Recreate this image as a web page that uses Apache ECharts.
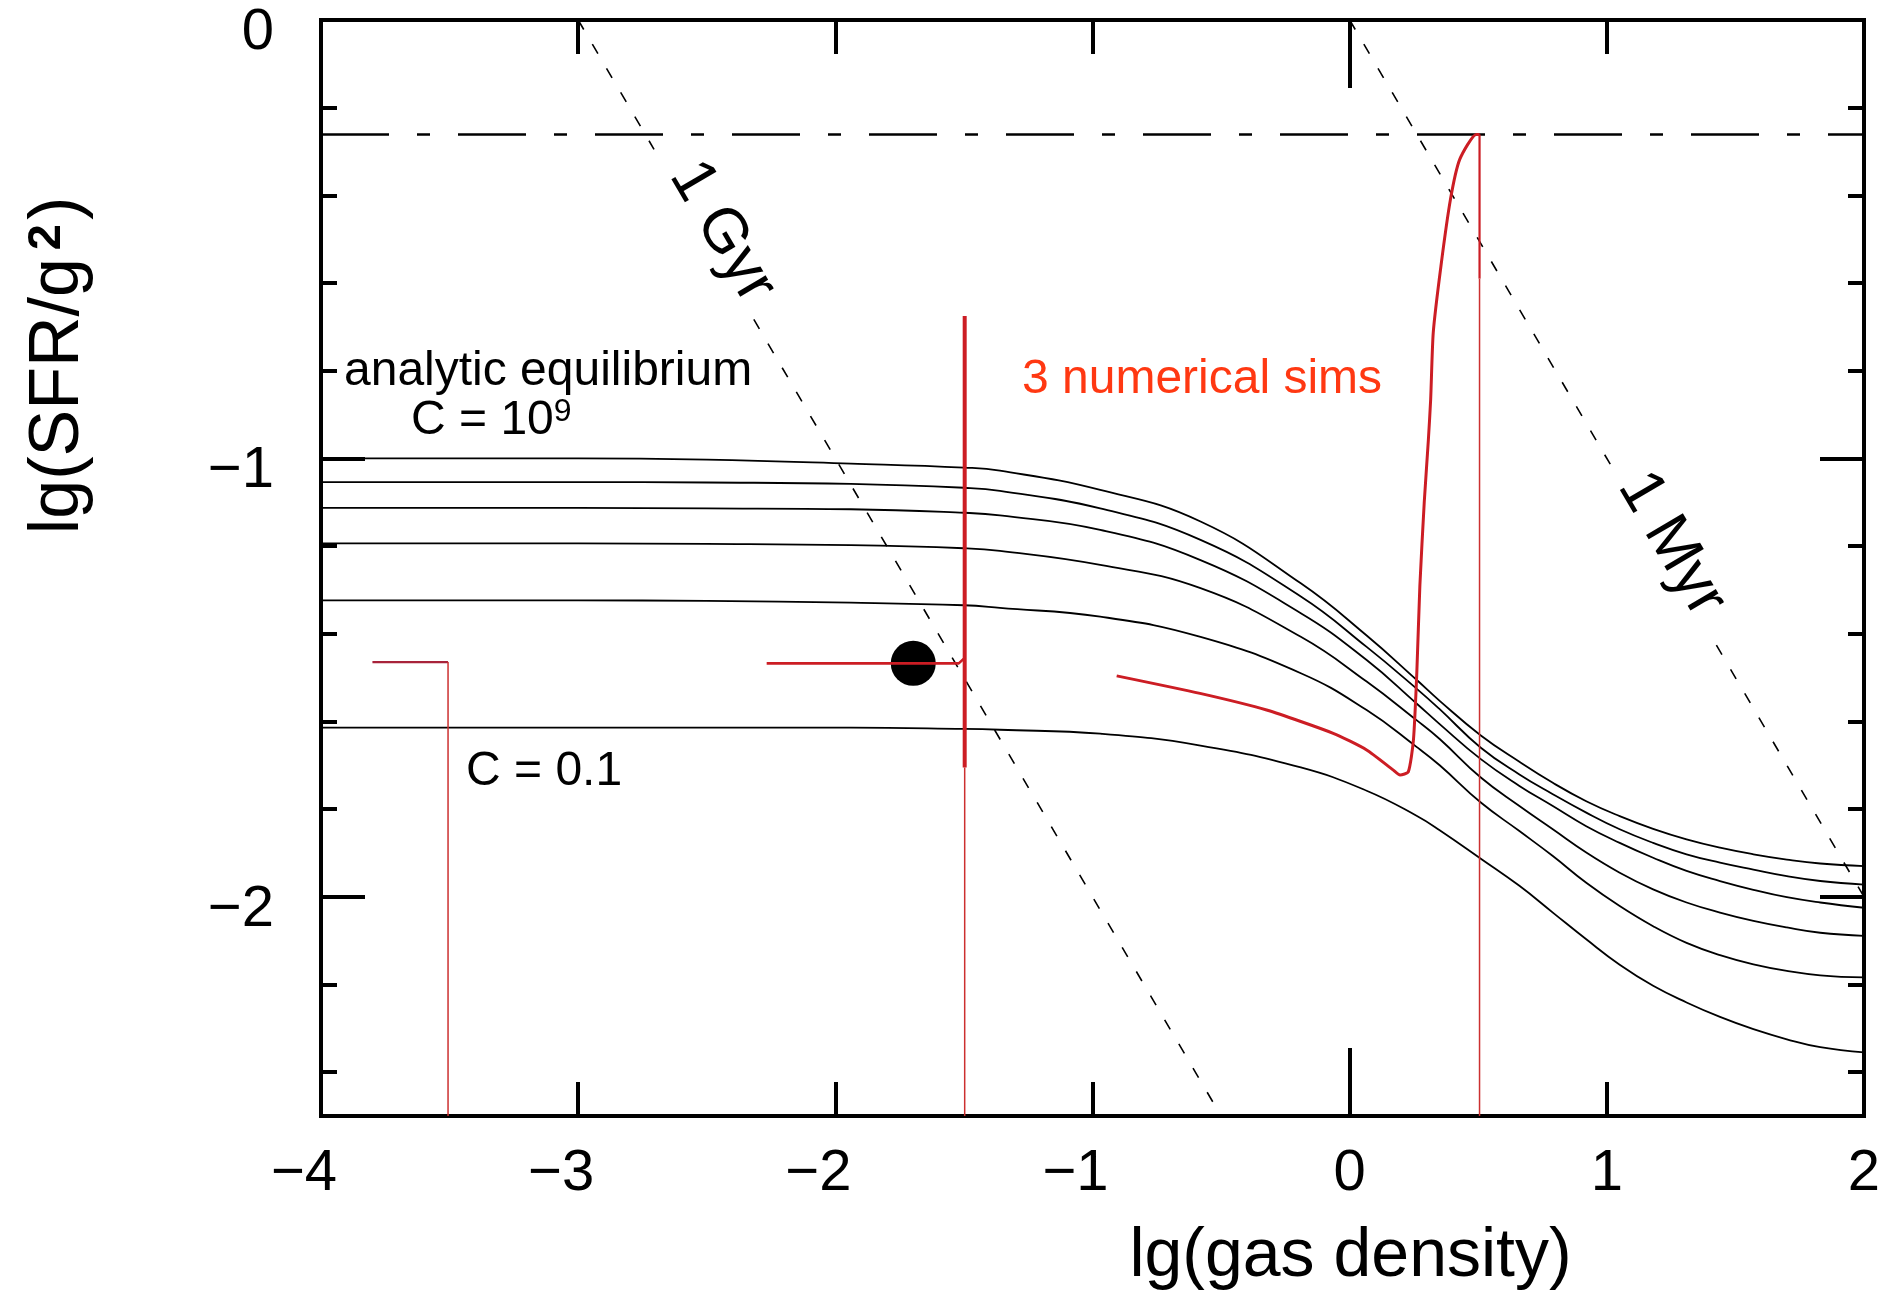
<!DOCTYPE html>
<html>
<head>
<meta charset="utf-8">
<script src="https://cdn.jsdelivr.net/npm/echarts@6/dist/echarts.min.js"></script>
<style>
html,body{margin:0;padding:0;background:#ffffff;}
#chart{width:1886px;height:1293px;}
</style>
</head>
<body>
<div id="chart"></div>
<script>
// ---------------- data ----------------
// lg(gas density) sample positions of the analytic equilibrium curves
const eqX = [-4, -3, -2.5, -1.94, -1.5, -1.36, -0.97, -0.58, -0.19, 0.066, 0.26, 0.35, 0.51, 0.66, 0.79, 0.92, 1.05, 1.18, 1.31, 1.44, 1.57, 1.70, 1.83, 2.0];
// analytic equilibrium curves, top (C = 1e9) to bottom (C = 0.1)
const eqCurve1 = [-1.000, -1.000, -1.003, -1.012, -1.021, -1.028, -1.072, -1.144, -1.285, -1.404, -1.505, -1.553, -1.632, -1.692, -1.740, -1.782, -1.816, -1.845, -1.869, -1.888, -1.903, -1.915, -1.924, -1.930];
const eqCurve2 = [-1.054, -1.054, -1.055, -1.058, -1.067, -1.074, -1.114, -1.186, -1.315, -1.430, -1.525, -1.572, -1.660, -1.721, -1.766, -1.808, -1.846, -1.877, -1.903, -1.922, -1.938, -1.953, -1.964, -1.972];
const eqCurve3 = [-1.113, -1.113, -1.114, -1.116, -1.124, -1.130, -1.163, -1.232, -1.353, -1.460, -1.559, -1.606, -1.686, -1.747, -1.793, -1.839, -1.877, -1.911, -1.941, -1.964, -1.984, -2.001, -2.013, -2.025];
const eqCurve4 = [-1.194, -1.194, -1.195, -1.198, -1.205, -1.211, -1.243, -1.296, -1.407, -1.509, -1.597, -1.640, -1.728, -1.793, -1.846, -1.899, -1.945, -1.983, -2.013, -2.036, -2.055, -2.070, -2.082, -2.089];
const eqCurve5 = [-1.324, -1.324, -1.325, -1.329, -1.335, -1.341, -1.361, -1.407, -1.490, -1.574, -1.658, -1.700, -1.785, -1.850, -1.907, -1.968, -2.021, -2.067, -2.105, -2.133, -2.154, -2.169, -2.179, -2.184];
const eqCurve6 = [-1.614, -1.614, -1.614, -1.614, -1.617, -1.619, -1.628, -1.655, -1.705, -1.758, -1.815, -1.848, -1.913, -1.975, -2.036, -2.097, -2.155, -2.203, -2.241, -2.274, -2.302, -2.325, -2.343, -2.355];

// numerical simulation A (leftmost)
const simAFlat = [[-3.80, -1.4645], [-3.506, -1.4645]];
const simADrop = [[-3.506, -1.4645], [-3.506, -2.5]];
// numerical simulation B (middle)
const simBFlat = [[-2.267, -1.4675], [-1.52, -1.4675], [-1.497, -1.455]];
const simBJump = [[-1.497, -0.675], [-1.497, -1.705]];
const simBDrop = [[-1.497, -1.705], [-1.497, -2.5]];
// numerical simulation C (right)
const simCTrack = [[-0.906, -1.496], [-0.582, -1.536], [-0.323, -1.574], [-0.064, -1.627], [0.066, -1.665], [0.170, -1.711], [0.196, -1.722], [0.228, -1.715], [0.248, -1.642], [0.261, -1.490], [0.273, -1.290], [0.290, -1.100], [0.306, -0.958], [0.315, -0.865], [0.325, -0.713], [0.355, -0.561], [0.392, -0.409], [0.428, -0.318], [0.492, -0.261], [0.505, -0.261]];
const simCJump = [[0.505, -0.261], [0.505, -0.59]];
const simCDrop = [[0.505, -0.59], [0.505, -2.5]];
// initial state marker
const startPoint = [[-1.697, -1.4675]];

// reference lines
const ceilingLine = [[-4, -0.261], [2, -0.261]];
const gyrLineA = [[-3, 0], [-2.705, -0.295]];
const gyrLineB = [[-2.317, -0.683], [-0.5, -2.5]];
const myrLineA = [[0, 0], [1.022, -1.022]];
const myrLineB = [[1.426, -1.426], [2, -2]];

// ticks and labels
const xLabelVals = [-4, -3, -2, -1, 0, 1, 2];
const xTickVals = [-3, -2, -1, 0, 1];
const xLongTickVals = [0];
const yLabelVals = [0, -1, -2];
const yMajorTickVals = [-1, -2];
const yMinorTickVals = [-0.2, -0.4, -0.6, -0.8, -1.2, -1.4, -1.6, -1.8, -2.2, -2.4];

// ---------------- chart ----------------
const FONT = '"Liberation Sans", Arial, Helvetica, sans-serif';
const BLACK = '#000000';
const SIM_RED = '#cc1d24';
const THIN_RED = '#cc3030';
const MINUS = '\u2212';
const chart = echarts.init(document.getElementById('chart'), null, {renderer: 'canvas'});

function baseX(extra) {
  return Object.assign({
    type: 'value', min: -4, max: 2, gridIndex: 0,
    axisLine: {show: false, onZero: false},
    axisTick: {show: false}, axisLabel: {show: false},
    splitLine: {show: false}, minorTick: {show: false}
  }, extra);
}
function baseY(extra) {
  return Object.assign({
    type: 'value', min: -2.5, max: 0, gridIndex: 0,
    axisLine: {show: false, onZero: false},
    axisTick: {show: false}, axisLabel: {show: false},
    splitLine: {show: false}, minorTick: {show: false}
  }, extra);
}
const frameLine = {show: true, onZero: false, lineStyle: {color: BLACK, width: 4, cap: 'square'}};
function ticks(vals, len) {
  return {show: true, inside: true, length: len, customValues: vals, lineStyle: {color: BLACK, width: 4}};
}
const fmtNum = v => (v < 0 ? MINUS + Math.abs(v) : String(v));

function eqSeries(vals) {
  return {
    type: 'line', xAxisIndex: 0, yAxisIndex: 0, symbol: 'none', smooth: 0.45,
    data: eqX.map((x, i) => [x, vals[i]]),
    lineStyle: {color: BLACK, width: 1.8}, z: 3, silent: true
  };
}
function seg(data, color, width, type, z, smooth) {
  return {
    type: 'line', xAxisIndex: 0, yAxisIndex: 0, symbol: 'none', data: data,
    smooth: smooth || false,
    lineStyle: {color: color, width: width, type: type || 'solid'}, z: z || 4, silent: true
  };
}

const option = {
  animation: false,
  backgroundColor: '#ffffff',
  grid: {left: 321, right: 22, top: 20, bottom: 177, containLabel: false, outerBoundsMode: 'none'},
  xAxis: [
    baseX({
      position: 'bottom', axisLine: frameLine, axisTick: ticks(xTickVals, 34),
      axisLabel: {
        show: true, customValues: xLabelVals, margin: 29, color: BLACK, fontSize: 58, fontFamily: FONT,
        formatter: v => v < 0 ? '{n|' + fmtNum(v) + '}{p| }' : '{n|' + v + '}',
        rich: {
          n: {fontSize: 58, fontFamily: FONT, color: BLACK},
          p: {fontSize: 58, fontFamily: FONT, width: 34}
        }
      },
      name: 'lg(gas density)', nameLocation: 'middle', nameGap: 141,
      nameTextStyle: {fontSize: 68, fontFamily: FONT, color: BLACK, align: 'center', verticalAlign: 'middle', padding: [0, 0, 0, 516]}
    }),
    baseX({position: 'bottom', axisTick: ticks(xLongTickVals, 68)}),
    baseX({position: 'top', axisLine: frameLine, axisTick: ticks(xTickVals, 34)}),
    baseX({position: 'top', axisTick: ticks(xLongTickVals, 68)})
  ],
  yAxis: [
    baseY({
      position: 'left', axisLine: frameLine, axisTick: ticks(yMajorTickVals, 44),
      axisLabel: {
        show: true, customValues: yLabelVals, margin: 47, color: BLACK, fontSize: 58, fontFamily: FONT,
        formatter: v => '{v|' + fmtNum(v) + '}',
        rich: {v: {fontSize: 58, fontFamily: FONT, color: BLACK, padding: [26, 0, 0, 0]}}
      },
      name: '{a|lg(SFR/g}{s|2}{a|)}', nameLocation: 'middle', nameRotate: 90, nameGap: 262,
      nameTextStyle: {
        fontSize: 70, fontFamily: FONT, color: BLACK, align: 'center', verticalAlign: 'middle', padding: [0, 0, 0, 405],
        rich: {
          a: {fontSize: 70, fontFamily: FONT, color: BLACK},
          s: {fontSize: 47, fontFamily: FONT, fontWeight: 'bold', color: BLACK, verticalAlign: 'top', padding: [0, 4, 0, 8]}
        }
      }
    }),
    baseY({position: 'left', axisTick: ticks(yMinorTickVals, 16)}),
    baseY({position: 'right', axisLine: frameLine, axisTick: ticks(yMajorTickVals, 44)}),
    baseY({position: 'right', axisTick: ticks(yMinorTickVals, 16)})
  ],
  series: [
    {
      type: 'scatter', xAxisIndex: 0, yAxisIndex: 0, data: startPoint, symbol: 'circle', symbolSize: 45,
      itemStyle: {color: BLACK, opacity: 1}, z: 2, silent: true
    },
    eqSeries(eqCurve1), eqSeries(eqCurve2), eqSeries(eqCurve3),
    eqSeries(eqCurve4), eqSeries(eqCurve5), eqSeries(eqCurve6),
    seg(ceilingLine, BLACK, 2.5, [68, 28, 13, 28], 3),
    seg(gyrLineA, BLACK, 1.6, [11, 17], 3),
    seg(gyrLineB, BLACK, 1.6, [11, 17], 3),
    seg(myrLineA, BLACK, 1.6, [11, 17], 3),
    seg(myrLineB, BLACK, 1.6, [11, 17], 3),
    seg(simAFlat, '#a8233a', 2.2, 'solid', 5),
    seg(simADrop, THIN_RED, 1.5, 'solid', 5),
    seg(simBFlat, SIM_RED, 2.6, 'solid', 5),
    seg(simBJump, SIM_RED, 4, 'solid', 5),
    seg(simBDrop, THIN_RED, 1.5, 'solid', 5),
    seg(simCTrack, SIM_RED, 3, 'solid', 6, 0.2),
    seg(simCJump, SIM_RED, 2.2, 'solid', 5),
    seg(simCDrop, THIN_RED, 1.5, 'solid', 5)
  ]
};
chart.setOption(option);

// ---------------- annotations (anchored in data space) ----------------
const annot = {
  analytic: [-3.117, -0.8015],
  c1e9: [-3.650, -0.9133],
  c01: [-3.436, -1.714],
  sims: [-0.574, -0.821],
  gyr: [-2.4407, -0.4836],
  myr: [1.2511, -1.1957]
};
const toPx = p => chart.convertToPixel({xAxisIndex: 0, yAxisIndex: 0}, p);
function lineAngle(a, b) {
  const p = toPx(a), q = toPx(b);
  return Math.atan2(q[1] - p[1], q[0] - p[0]);
}
const gyrAngle = lineAngle(gyrLineA[0], gyrLineB[gyrLineB.length - 1]);
const myrAngle = lineAngle(myrLineA[0], myrLineB[myrLineB.length - 1]);

function label(anchor, text, size, color, align, extra) {
  const p = toPx(anchor);
  return Object.assign({
    type: 'text', x: p[0], y: p[1], silent: true, z: 10,
    style: {
      text: text, fontSize: size, fontFamily: FONT, fill: color,
      align: align, verticalAlign: 'middle', textAlign: align, textVerticalAlign: 'middle'
    }
  }, extra || {});
}
const cSup = toPx(annot.c1e9);
chart.setOption({
  graphic: [
    label(annot.analytic, 'analytic equilibrium', 48, BLACK, 'center'),
    {
      type: 'text', x: cSup[0], y: cSup[1], silent: true, z: 10,
      style: {
        text: '{a|C = 10}{s|9}', align: 'left', verticalAlign: 'middle', textAlign: 'left', textVerticalAlign: 'middle',
        fontSize: 48, fontFamily: FONT, fill: BLACK,
        rich: {
          a: {fontSize: 48, fontFamily: FONT, fill: BLACK, color: BLACK},
          s: {fontSize: 32, fontFamily: FONT, fill: BLACK, color: BLACK, verticalAlign: 'top'}
        }
      }
    },
    label(annot.c01, 'C = 0.1', 48, BLACK, 'left'),
    label(annot.sims, '3 numerical sims', 48, '#ff3812', 'center'),
    label(annot.gyr, '1 Gyr', 62, BLACK, 'center', {rotation: -gyrAngle}),
    label(annot.myr, '1 Myr', 62, BLACK, 'center', {rotation: -myrAngle})
  ]
});
</script>
</body>
</html>
